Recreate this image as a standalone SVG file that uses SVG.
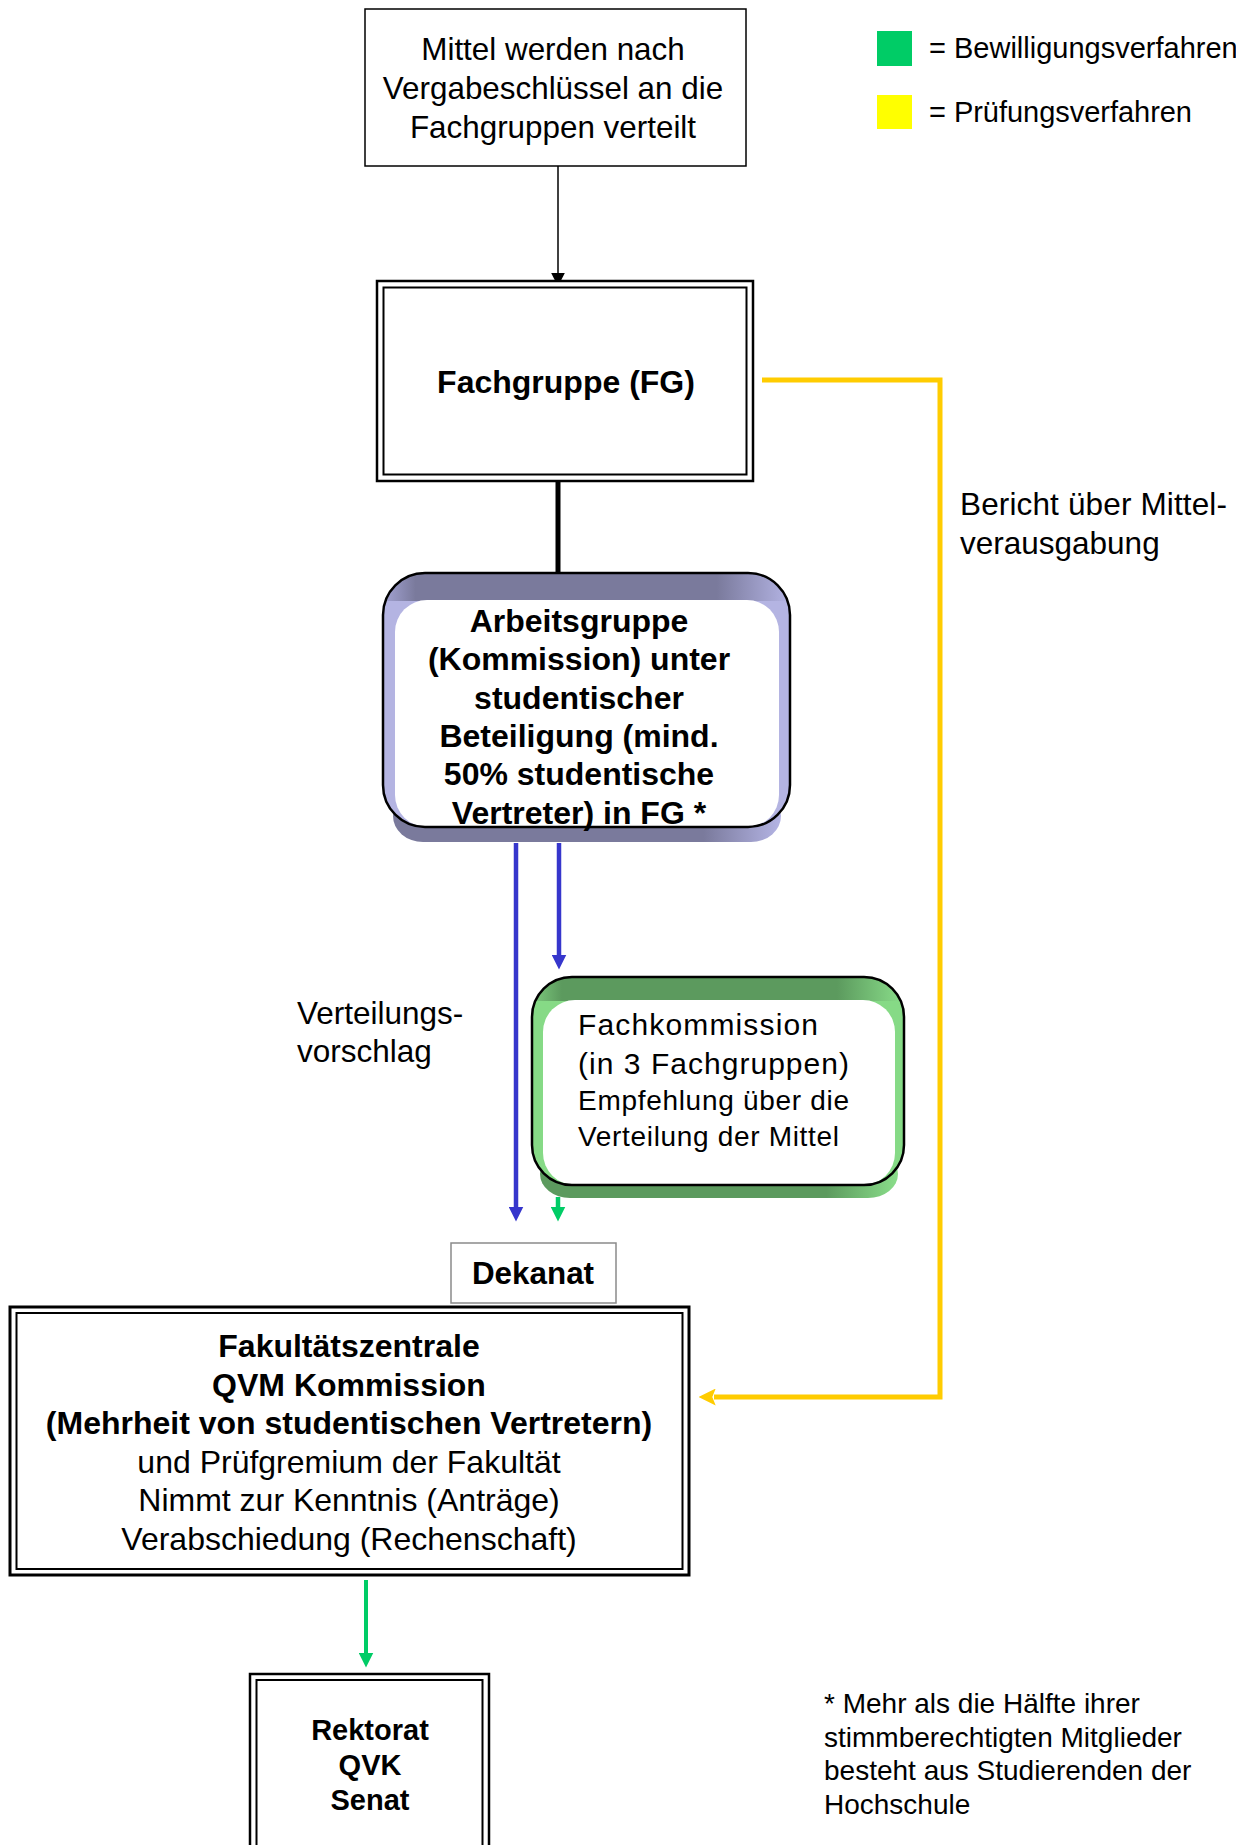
<svg xmlns="http://www.w3.org/2000/svg" width="1236" height="1845" viewBox="0 0 1236 1845">
<style>
text{font-family:"Liberation Sans",Arial,"DejaVu Sans",sans-serif;fill:#000}
.r{font-size:31.5px}
.b{font-size:32px;font-weight:bold}
.c{text-anchor:middle}
.box{fill:#fff;stroke:#000}
.conn{fill:none}
</style>
<defs>
<marker id="mBlack" viewBox="0 0 10 10" refX="1" refY="5" markerUnits="userSpaceOnUse" markerWidth="14" markerHeight="17" orient="auto"><path d="M0,0 L10,5 L0,10 z" fill="#000"/></marker>
<marker id="mBlue" viewBox="0 0 10 10" refX="1" refY="5" markerUnits="userSpaceOnUse" markerWidth="15" markerHeight="15" orient="auto"><path d="M0,0 L10,5 L0,10 z" fill="#3636cc"/></marker>
<marker id="mGreen" viewBox="0 0 10 10" refX="1" refY="5" markerUnits="userSpaceOnUse" markerWidth="15" markerHeight="15" orient="auto"><path d="M0,0 L10,5 L0,10 z" fill="#00cc66"/></marker>
<marker id="mYellow" viewBox="0 0 10 10" refX="1" refY="5" markerUnits="userSpaceOnUse" markerWidth="17" markerHeight="17" orient="auto"><path d="M0,0 L10,5 L0,10 L2,5 z" fill="#ffcc00"/></marker>
<linearGradient id="agTop" x1="0" y1="0" x2="1" y2="0"><stop offset="0" stop-color="#a4a4d4"/><stop offset="0.08" stop-color="#7a7a9c"/><stop offset="0.82" stop-color="#7a7a9c"/><stop offset="1" stop-color="#b4b4e4"/></linearGradient>
<linearGradient id="agShadow" x1="0" y1="0" x2="1" y2="0"><stop offset="0" stop-color="#7a7a9c"/><stop offset="0.8" stop-color="#7a7a9c"/><stop offset="1" stop-color="#b4b4e4"/></linearGradient>
<linearGradient id="fkTop" x1="0" y1="0" x2="1" y2="0"><stop offset="0" stop-color="#7ecb7e"/><stop offset="0.08" stop-color="#5c9a5e"/><stop offset="0.82" stop-color="#5c9a5e"/><stop offset="1" stop-color="#8ade8a"/></linearGradient>
<linearGradient id="fkShadow" x1="0" y1="0" x2="1" y2="0"><stop offset="0" stop-color="#5c9a5e"/><stop offset="0.8" stop-color="#5c9a5e"/><stop offset="1" stop-color="#8ade8a"/></linearGradient>
<clipPath id="agClip"><rect x="383" y="573" width="407" height="254" rx="42"/></clipPath>
<clipPath id="fkClip"><rect x="532" y="977" width="372" height="208" rx="40"/></clipPath>
</defs>
<rect width="1236" height="1845" fill="#fff"/>

<g id="legend">
<rect x="877" y="31" width="35" height="35" fill="#00cc66"/>
<text x="929" y="58" style="font-size:29px">= Bewilligungsverfahren</text>
<rect x="877" y="95" width="35" height="34" fill="#ffff00"/>
<text x="929" y="122" style="font-size:29px" textLength="263">= Prüfungsverfahren</text>
</g>

<g id="connectors">
<line class="conn" x1="558" y1="166" x2="558" y2="274" stroke="#000" stroke-width="1.5" marker-end="url(#mBlack)"/>
<line class="conn" x1="558" y1="481" x2="558" y2="574" stroke="#000" stroke-width="5"/>
<path class="conn" d="M762,380 H940 V1397 H714" stroke="#ffcc00" stroke-width="5" marker-end="url(#mYellow)"/>
<line class="conn" x1="516" y1="843" x2="516" y2="1208" stroke="#3636cc" stroke-width="4.5" marker-end="url(#mBlue)"/>
<line class="conn" x1="559" y1="843" x2="559" y2="956" stroke="#3636cc" stroke-width="4.5" marker-end="url(#mBlue)"/>
<line class="conn" x1="558" y1="1197" x2="558" y2="1208" stroke="#00cc66" stroke-width="4.5" marker-end="url(#mGreen)"/>
<line class="conn" x1="366" y1="1580" x2="366" y2="1654" stroke="#00cc66" stroke-width="4" marker-end="url(#mGreen)"/>
</g>

<g id="label-bericht">
<text class="r" x="960" y="515" textLength="267">Bericht über Mittel-</text>
<text class="r" x="960" y="554">verausgabung</text>
</g>
<g id="label-verteilung">
<text class="r" x="297" y="1024">Verteilungs-</text>
<text class="r" x="297" y="1062">vorschlag</text>
</g>

<g id="node-mittel">
<rect class="box" x="365" y="9" width="381" height="157" stroke-width="1.5"/>
<text class="c" x="553" y="59.5" style="font-size:31.4px">Mittel werden nach</text>
<text class="c" x="553" y="98.5" style="font-size:31.4px">Vergabeschlüssel an die</text>
<text class="c" x="553" y="137.5" style="font-size:31.4px">Fachgruppen verteilt</text>
</g>

<g id="node-fachgruppe">
<rect class="box" x="377" y="281" width="376" height="200" stroke-width="2.5"/>
<rect class="box" x="383.5" y="287.5" width="363" height="187" stroke-width="2"/>
<text class="b c" x="566" y="393">Fachgruppe (FG)</text>
</g>

<g id="node-arbeitsgruppe">
<rect x="393" y="790" width="388" height="52" rx="30" fill="url(#agShadow)"/>
<rect x="383" y="573" width="407" height="254" rx="42" fill="#b4b4e2"/>
<rect x="383" y="573" width="407" height="28" fill="url(#agTop)" clip-path="url(#agClip)"/>
<rect x="395" y="600" width="384" height="227" rx="32" fill="#fff"/>
<rect x="383" y="573" width="407" height="254" rx="42" fill="none" stroke="#000" stroke-width="2.5"/>
<text class="b c" x="579" y="632">Arbeitsgruppe</text>
<text class="b c" x="579" y="670.3">(Kommission) unter</text>
<text class="b c" x="579" y="708.6">studentischer</text>
<text class="b c" x="579" y="746.9">Beteiligung (mind.</text>
<text class="b c" x="579" y="785.2">50% studentische</text>
<text class="b c" x="579" y="823.5">Vertreter) in FG *</text>
</g>

<g id="node-fachkommission">
<rect x="540" y="1150" width="358" height="48" rx="30" fill="url(#fkShadow)"/>
<rect x="532" y="977" width="372" height="208" rx="40" fill="#86da86"/>
<rect x="532" y="977" width="372" height="24" fill="url(#fkTop)" clip-path="url(#fkClip)"/>
<rect x="543" y="1000" width="352" height="185" rx="32" fill="#fff"/>
<rect x="532" y="977" width="372" height="208" rx="40" fill="none" stroke="#000" stroke-width="2.5"/>
<text x="578" y="1035" style="font-size:30px" textLength="240">Fachkommission</text>
<text x="578" y="1074" style="font-size:30px" textLength="271">(in 3 Fachgruppen)</text>
<text x="578" y="1110" style="font-size:28px" textLength="271">Empfehlung über die</text>
<text x="578" y="1146" style="font-size:28px" textLength="261">Verteilung der Mittel</text>
</g>

<g id="node-dekanat">
<rect x="451" y="1243" width="165" height="60" fill="#fff" stroke="#8a8a8a" stroke-width="1.5"/>
<text class="c" x="533" y="1284" style="font-size:31.4px;font-weight:bold">Dekanat</text>
</g>

<g id="node-fakultaet">
<rect class="box" x="10" y="1307" width="679" height="268" stroke-width="3"/>
<rect class="box" x="16.5" y="1313" width="666" height="256" stroke-width="2"/>
<text class="b c" x="349" y="1357">Fakultätszentrale</text>
<text class="b c" x="349" y="1395.6">QVM Kommission</text>
<text class="b c" x="349" y="1434.2">(Mehrheit von studentischen Vertretern)</text>
<text class="r c" x="349" y="1472.8" style="font-size:32px">und Prüfgremium der Fakultät</text>
<text class="r c" x="349" y="1511.4" style="font-size:32px">Nimmt zur Kenntnis (Anträge)</text>
<text class="r c" x="349" y="1550" style="font-size:32px">Verabschiedung (Rechenschaft)</text>
</g>

<g id="node-rektorat">
<rect class="box" x="250" y="1674" width="239" height="200" stroke-width="2.5"/>
<rect class="box" x="256.5" y="1680" width="226" height="200" stroke-width="2"/>
<text class="c" x="370" y="1740" style="font-size:29px;font-weight:bold">Rektorat</text>
<text class="c" x="370" y="1775" style="font-size:29px;font-weight:bold">QVK</text>
<text class="c" x="370" y="1810" style="font-size:29px;font-weight:bold">Senat</text>
</g>

<g id="footnote">
<text x="824" y="1713" style="font-size:28px">* Mehr als die Hälfte ihrer</text>
<text x="824" y="1747" style="font-size:28px">stimmberechtigten Mitglieder</text>
<text x="824" y="1780" style="font-size:28px">besteht aus Studierenden der</text>
<text x="824" y="1814" style="font-size:28px">Hochschule</text>
</g>
</svg>
